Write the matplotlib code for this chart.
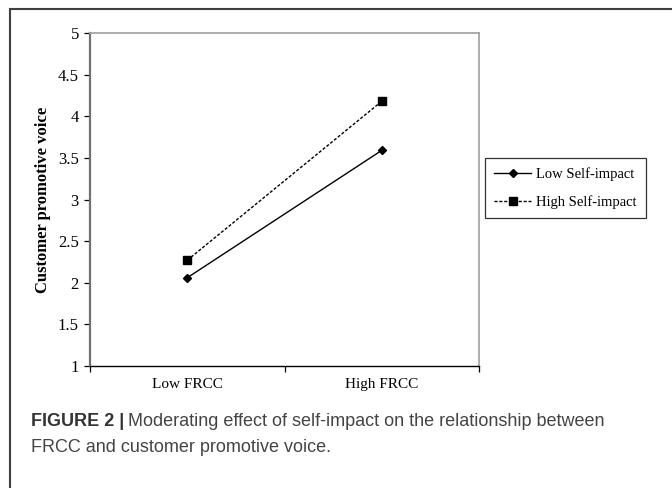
import matplotlib
matplotlib.use("Agg")
import matplotlib.pyplot as plt
from matplotlib.patches import Rectangle

plt.rcParams.update({
    "font.family": "serif",
    "font.serif": ["Liberation Serif", "DejaVu Serif"],
})

categories = ["Low FRCC", "High FRCC"]
low_self = [2.06, 3.59]
high_self = [2.27, 4.18]
series_names = ["Low Self-impact", "High Self-impact"]
yticks = [1, 1.5, 2, 2.5, 3, 3.5, 4, 4.5, 5]
ytick_labels = ["1", "1.5", "2", "2.5", "3", "3.5", "4", "4.5", "5"]

W, H = 672, 488
fig = plt.figure(figsize=(W / 100, H / 100), dpi=100)
ax = fig.add_axes([90 / W, 1 - 366 / H, (479 - 90) / W, (366 - 33) / H])

xpos = [i + 0.5 for i in range(len(categories))]
ax.plot(xpos, low_self, color="black", lw=1.0, marker="D", ms=4.2,
        label=series_names[0])
ax.plot(xpos, high_self, color="black", lw=1.0, ls=(0, (2.2, 1.3)),
        marker="s", ms=5.5, label=series_names[1])

ax.set_xlim(0, len(categories))
ax.set_ylim(1, 5)
ax.set_yticks(yticks)
ax.set_yticklabels(ytick_labels, fontsize=12)
ax.set_xticks(range(len(categories) + 1))
ax.set_xticklabels([])
ax.set_xticks(xpos, minor=True)
ax.set_xticklabels(categories, minor=True, fontsize=11)
for t in ax.get_xticklabels(minor=True):
    t.set_verticalalignment("baseline")
ax.tick_params(axis="x", which="minor", length=0, pad=16)
ax.tick_params(axis="x", which="major", length=4, width=0.9, direction="out")
ax.tick_params(axis="y", length=4, width=0.9, direction="out", pad=4)

for side in ["top", "right"]:
    ax.spines[side].set_color("#a0a0a0")
    ax.spines[side].set_linewidth(1.2)
ax.spines["left"].set_color("#707070")
ax.spines["left"].set_linewidth(1.6)
ax.spines["bottom"].set_color("black")
ax.spines["bottom"].set_linewidth(1.0)

ax.set_ylabel("Customer promotive voice", fontsize=12, fontweight="bold",
              labelpad=5)

leg = fig.legend(loc="upper left", bbox_to_anchor=(485 / W, 1 - 158 / H),
                 frameon=True, fancybox=False, fontsize=10.5,
                 handlelength=2.5, borderpad=0.65, labelspacing=0.95,
                 handletextpad=0.35, borderaxespad=0)
leg.get_frame().set_edgecolor("black")
leg.get_frame().set_linewidth(0.9)

# outer figure frame
fig.patches.append(Rectangle((10 / W, -0.05), 1.2, 1 - 9 / H + 0.05,
                             transform=fig.transFigure, fill=False,
                             edgecolor="#404040", lw=1.5))

cap = fig.text(31 / W, 1 - 421 / H, "FIGURE 2 |", fontsize=13,
               family="Liberation Sans", fontweight="bold", va="center",
               ha="left", color="#333333")
fig.canvas.draw()
bb = cap.get_window_extent()
fig.text((bb.x1 + 4) / W, 1 - 421 / H,
         "Moderating effect of self-impact on the relationship between",
         fontsize=13, family="Liberation Sans", va="center", ha="left",
         color="#444444")
fig.text(31 / W, 1 - 447 / H, "FRCC and customer promotive voice.",
         fontsize=13, family="Liberation Sans", va="center", ha="left",
         color="#444444")

fig.savefig("out.png", dpi=100, facecolor="white")
